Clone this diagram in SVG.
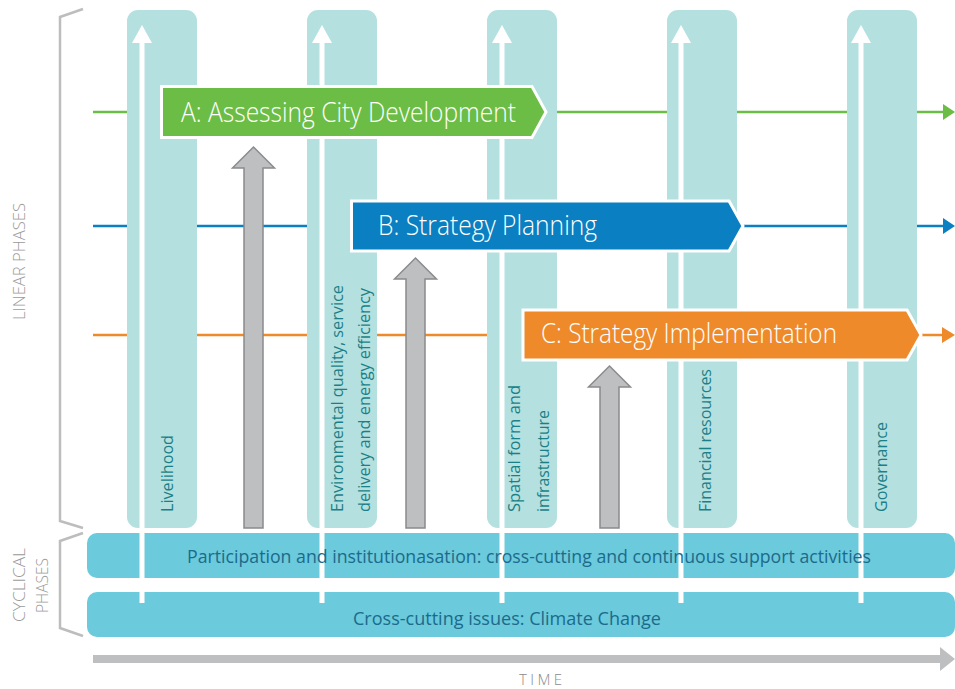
<svg xmlns="http://www.w3.org/2000/svg" width="955" height="689" viewBox="0 0 955 689">
<style>
.col{fill:#b5e0e0}
.wl{stroke:#ffffff;stroke-width:5}
.wh{fill:#ffffff}
.hl{stroke-width:2.5;fill:none}
.ga{fill:#bebfc1;stroke:#8a8b8d;stroke-width:1.5}
.bar{fill:#6bcadb}
.box{stroke:#ffffff;stroke-width:3}
.t{font-family:"Open Sans","Noto Sans","Liberation Sans",sans-serif;font-weight:300}
.bt{font-size:27px;fill:#ffffff}
.lab{font-size:17px;fill:#1a7f86;font-weight:400}
.bart{font-size:18px;fill:#1c6a8c;font-weight:400}
.side{font-size:16px;fill:#9a9a9a}
.br{stroke:#bdbdbd;stroke-width:2.5;fill:none}
</style>
<rect width="955" height="689" fill="#ffffff"/>
<g id="brackets">
<path class="br" d="M83,9 L60,17 L60,521 L83,528"/>
<path class="br" d="M83,533 L60,541 L60,628 L83,636"/>
<text class="t side" transform="translate(25,261.5) rotate(-90)" text-anchor="middle" textLength="117" lengthAdjust="spacingAndGlyphs">LINEAR PHASES</text>
<text class="t side" transform="translate(25,585) rotate(-90)" text-anchor="middle" textLength="74" lengthAdjust="spacingAndGlyphs">CYCLICAL</text>
<text class="t side" transform="translate(48,585.5) rotate(-90)" text-anchor="middle" textLength="55" lengthAdjust="spacingAndGlyphs">PHASES</text>
</g>
<g id="connectors">
<line class="hl" x1="93" y1="112" x2="946" y2="112" stroke="#6cbd45"/>
<polygon points="943,104 955,112 943,120" fill="#6cbd45"/>
<line class="hl" x1="93" y1="226" x2="946" y2="226" stroke="#0a7fc1"/>
<polygon points="943,218 955,226 943,234" fill="#0a7fc1"/>
<line class="hl" x1="93" y1="335" x2="945" y2="335" stroke="#ee8a2a"/>
<polygon points="942,327 955,335 942,343" fill="#ee8a2a"/>
</g>
<g id="col-livelihood">
<rect class="col" x="127" y="10" width="70" height="518" rx="11"/>
<line class="wl" x1="142" y1="40" x2="142" y2="592"/>
<polygon class="wh" points="132,43 142,25 152,43"/>
<text class="t lab" transform="translate(173,512) rotate(-90)" textLength="77" lengthAdjust="spacingAndGlyphs">Livelihood</text>
</g>
<g id="col-environment">
<rect class="col" x="307" y="10" width="70" height="518" rx="11"/>
<line class="wl" x1="322" y1="40" x2="322" y2="592"/>
<polygon class="wh" points="312,43 322,25 332,43"/>
<text class="t lab" transform="translate(343,512) rotate(-90)" textLength="227" lengthAdjust="spacingAndGlyphs">Environmental quality, service</text>
<text class="t lab" transform="translate(370,512) rotate(-90)" textLength="224" lengthAdjust="spacingAndGlyphs">delivery and energy efficiency</text>
</g>
<g id="col-spatial">
<rect class="col" x="487" y="10" width="70" height="518" rx="11"/>
<line class="wl" x1="502" y1="40" x2="502" y2="592"/>
<polygon class="wh" points="492,43 502,25 512,43"/>
<text class="t lab" transform="translate(520,512) rotate(-90)" textLength="127" lengthAdjust="spacingAndGlyphs">Spatial form and</text>
<text class="t lab" transform="translate(549,512) rotate(-90)" textLength="102" lengthAdjust="spacingAndGlyphs">infrastructure</text>
</g>
<g id="col-financial">
<rect class="col" x="667" y="10" width="70" height="518" rx="11"/>
<line class="wl" x1="681" y1="40" x2="681" y2="592"/>
<polygon class="wh" points="671,43 681,25 691,43"/>
<text class="t lab" transform="translate(711,512) rotate(-90)" textLength="143" lengthAdjust="spacingAndGlyphs">Financial resources</text>
</g>
<g id="col-governance">
<rect class="col" x="847" y="10" width="70" height="518" rx="11"/>
<line class="wl" x1="861" y1="40" x2="861" y2="592"/>
<polygon class="wh" points="851,43 861,25 871,43"/>
<text class="t lab" transform="translate(887,512) rotate(-90)" textLength="90" lengthAdjust="spacingAndGlyphs">Governance</text>
</g>
<g id="bar-participation">
<rect class="bar" x="87" y="533" width="868" height="45" rx="10"/>
<path class="wl" d="M142,533V578M322,533V578M502,533V578M681,533V578M861,533V578"/>
<text class="t bart" x="529" y="563" text-anchor="middle" textLength="684" lengthAdjust="spacingAndGlyphs">Participation and institutionasation: cross-cutting and continuous support activities</text>
</g>
<g id="bar-climate">
<rect class="bar" x="87" y="592" width="868" height="45" rx="10"/>
<path class="wl" d="M142,592V603M322,592V603M502,592V603M681,592V603M861,592V603"/>
<text class="t bart" x="507" y="625" text-anchor="middle" textLength="308" lengthAdjust="spacingAndGlyphs">Cross-cutting issues: Climate Change</text>
</g>
<g id="gray-arrows">
<polygon class="ga" points="244,528 244,168 232.5,168 253.5,147 274.5,168 263,168 263,528"/>
<polygon class="ga" points="406,528 406,279 394.5,279 415.5,258 436.5,279 425,279 425,528"/>
<polygon class="ga" points="600,528 600,387 588.5,387 609.5,366 630.5,387 619,387 619,528"/>
</g>
<g id="phase-a">
<polygon class="box" fill="#6cbd45" points="161.5,86.5 532,86.5 546,112 532,137.5 161.5,137.5"/>
<text class="t bt" x="181" y="122" textLength="335" lengthAdjust="spacingAndGlyphs">A: Assessing City Development</text>
</g>
<g id="phase-b">
<polygon class="box" fill="#0a7fc1" points="351.5,201 729,201 743,226 729,251 351.5,251"/>
<text class="t bt" x="378" y="235" textLength="219" lengthAdjust="spacingAndGlyphs">B: Strategy Planning</text>
</g>
<g id="phase-c">
<polygon class="box" fill="#ee8a2a" points="523,310 907,310 921,335 907,360 523,360"/>
<text class="t bt" x="541" y="343" textLength="296" lengthAdjust="spacingAndGlyphs">C: Strategy Implementation</text>
</g>
<g id="time">
<polygon fill="#bebfc1" points="93,655 940,655 940,647 955,659 940,671 940,663 93,663"/>
<text class="t" x="540.5" y="685" font-size="15" fill="#8a8a8a" text-anchor="middle" textLength="43" lengthAdjust="spacing">TIME</text>
</g>
</svg>
